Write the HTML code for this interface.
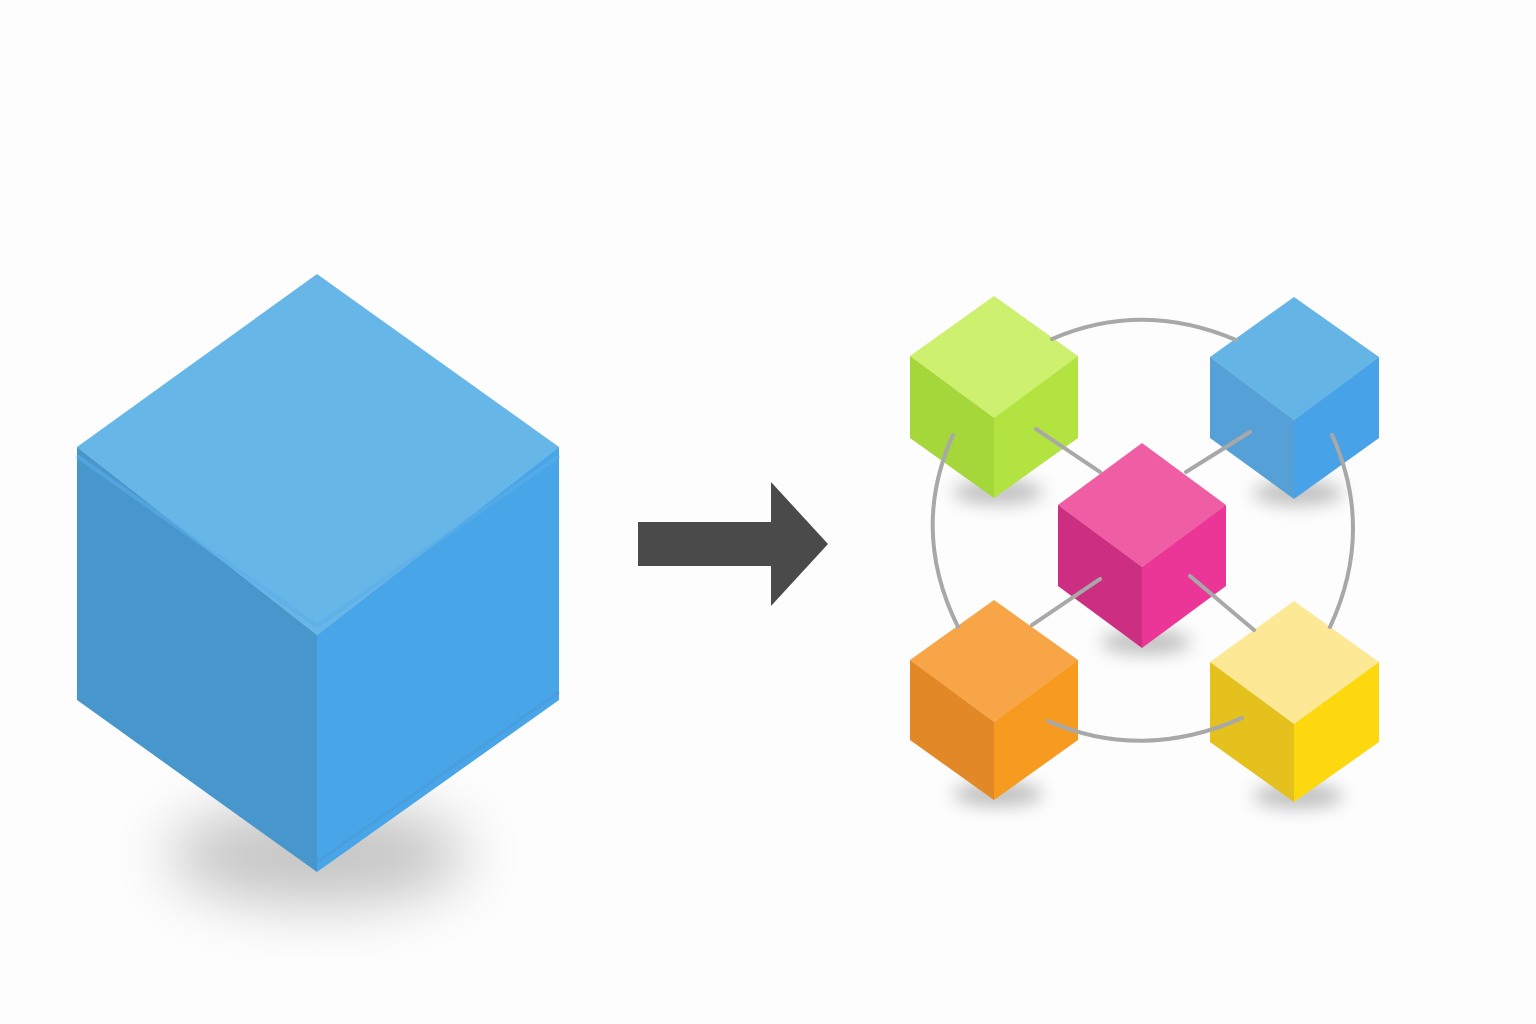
<!DOCTYPE html>
<html><head><meta charset="utf-8"><style>
html,body{margin:0;padding:0;background:#fdfdfd;}
svg{display:block}
</style></head><body>
<svg width="1536" height="1024" viewBox="0 0 1536 1024" xmlns="http://www.w3.org/2000/svg">
<defs>
<filter id="blur" x="-50%" y="-50%" width="200%" height="200%"><feGaussianBlur stdDeviation="30"/></filter>
<filter id="blur2" x="-50%" y="-50%" width="200%" height="200%"><feGaussianBlur stdDeviation="9"/></filter>
</defs>
<rect width="1536" height="1024" fill="#fdfdfd"/>
<ellipse cx="318" cy="855" rx="150" ry="50" fill="#000" opacity="0.22" filter="url(#blur)"/>
<polygon points="317,274 559,447 317,635 77,447" fill="#66b6e8"/>
<polygon points="77,447 317,635 317,872 77,700" fill="#4796cc"/>
<polygon points="559,447 317,635 317,872 559,700" fill="#48a5e8"/>
<polyline points="77,456 317,626 559,456" fill="none" stroke="#5aade6" stroke-width="4" opacity="0.6"/>
<polyline points="77,692 317,862 559,692" fill="none" stroke="#4a9ad4" stroke-width="3" opacity="0.5"/>
<polygon points="638,522 771,522 771,482 828,544 771,606 771,566 638,566" fill="#4a4a4a"/>
<g fill="#000" opacity="0.25" filter="url(#blur2)">
<ellipse cx="998" cy="492" rx="45" ry="12"/>
<ellipse cx="1298" cy="493" rx="45" ry="12"/>
<ellipse cx="1146" cy="642" rx="45" ry="12"/>
<ellipse cx="998" cy="794" rx="45" ry="12"/>
<ellipse cx="1298" cy="796" rx="45" ry="12"/>
</g>
<polygon points="994,296 1078,356 994,418 910,356" fill="#cdf06f"/>
<polygon points="910,356 994,418 994,498 910,438" fill="#a5d63a"/>
<polygon points="1078,356 994,418 994,498 1078,438" fill="#b2e340"/>
<polygon points="1294,297 1379,357 1294,420 1210,357" fill="#64b4e6"/>
<polygon points="1210,357 1294,420 1294,499 1210,438" fill="#55a0d6"/>
<polygon points="1379,357 1294,420 1294,499 1379,438" fill="#47a2e8"/>
<polygon points="994,600 1078,660 994,722 910,660" fill="#f7a546"/>
<polygon points="910,660 994,722 994,800 910,740" fill="#e38826"/>
<polygon points="1078,660 994,722 994,800 1078,740" fill="#f79a20"/>
<polygon points="1294,601 1379,662 1294,724 1210,662" fill="#fde995"/>
<polygon points="1210,662 1294,724 1294,802 1210,742" fill="#e4c11d"/>
<polygon points="1379,662 1294,724 1294,802 1379,742" fill="#fdd80f"/>
<polygon points="1142,443 1226,505 1142,567 1058,505" fill="#ef5da4"/>
<polygon points="1058,505 1142,567 1142,648 1058,586" fill="#cc2e82"/>
<polygon points="1226,505 1142,567 1142,648 1226,586" fill="#ec3697"/>
<g fill="none" stroke="#a8a8a8" stroke-width="4" stroke-linecap="round">
<path d="M1052,339 Q1142,300 1236,340"/>
<path d="M953,435 Q910,530 958,627"/>
<path d="M1332,435 Q1375,530 1330,627"/>
<path d="M1048,721 Q1142,762 1242,718"/>
<path d="M1036,429 L1100,472"/>
<path d="M1250,432 L1186,472"/>
<path d="M1100,579 L1032,625"/>
<path d="M1190,576 L1254,630"/>
</g>
</svg>
</body></html>
